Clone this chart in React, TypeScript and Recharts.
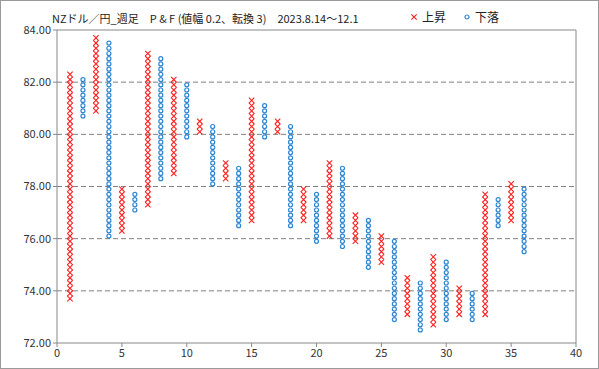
import React from "react";
import {
  ScatterChart,
  Scatter,
  XAxis,
  YAxis,
  CartesianGrid,
  ReferenceLine,
} from "recharts";

// P&F columns: odd = X (rising), even = O (falling); box size 0.2
const columnNo = [
  1, 2, 3, 4, 5, 6, 7, 8, 9, 10, 11, 12, 13, 14, 15, 16, 17, 18,
  19, 20, 21, 22, 23, 24, 25, 26, 27, 28, 29, 30, 31, 32, 33, 34, 35, 36,
];
const columnLow = [
  73.7, 80.7, 80.9, 76.1, 76.3, 77.1, 77.3, 78.3, 78.5, 79.9, 80.1, 78.1,
  78.3, 76.5, 76.7, 79.9, 80.1, 76.5, 76.7, 75.9, 76.1, 75.7, 75.9, 74.9,
  75.1, 72.9, 73.1, 72.5, 72.7, 72.9, 73.1, 72.9, 73.1, 76.5, 76.7, 75.5,
];
const columnHigh = [
  82.3, 82.1, 83.7, 83.5, 77.9, 77.7, 83.1, 82.9, 82.1, 81.9, 80.5, 80.3,
  78.9, 78.7, 81.3, 81.1, 80.5, 80.3, 77.9, 77.7, 78.9, 78.7, 76.9, 76.7,
  76.1, 75.9, 74.5, 74.3, 75.3, 75.1, 74.1, 73.9, 77.7, 77.5, 78.1, 77.9,
];
const boxSize = 0.2;

const xTicks = [0, 5, 10, 15, 20, 25, 30, 35, 40];
const yTicks = [72, 74, 76, 78, 80, 82, 84];

type Box = { x: number; y: number };

function boxesFor(rising: boolean): Box[] {
  const out: Box[] = [];
  columnNo.forEach((col, i) => {
    if ((col % 2 === 1) !== rising) return;
    const lo = Math.round(columnLow[i] * 10);
    const hi = Math.round(columnHigh[i] * 10);
    for (let v = lo; v <= hi; v += boxSize * 10) {
      out.push({ x: col, y: v / 10 });
    }
  });
  return out;
}

const upBoxes = boxesFor(true);
const downBoxes = boxesFor(false);

const RED = "#ff2020";
const BLUE = "#2f86d2";

function CrossShape(props: any) {
  const { cx, cy } = props;
  const r = 2.7;
  return (
    <g stroke={RED} strokeWidth={1.1}>
      <line x1={cx - r} y1={cy - r} x2={cx + r} y2={cy + r} />
      <line x1={cx - r} y1={cy + r} x2={cx + r} y2={cy - r} />
    </g>
  );
}

function CircleShape(props: any) {
  const { cx, cy } = props;
  return <circle cx={cx} cy={cy} r={2} fill="#fff" stroke={BLUE} strokeWidth={1.2} />;
}

const font = "'Noto Sans CJK JP', 'Noto Sans', sans-serif";

function LegendItem({ left, label, kind }: { left: number; label: string; kind: "x" | "o" }) {
  return (
    <div style={{ position: "absolute", left, top: 7, fontSize: 12, color: "#222", display: "flex", alignItems: "center" }}>
      <svg width={8} height={8} style={{ marginRight: 4 }}>
        {kind === "x" ? <CrossShape cx={4} cy={4} /> : <CircleShape cx={4} cy={4} />}
      </svg>
      {label}
    </div>
  );
}

export default function App() {
  return (
    <div
      style={{
        position: "absolute",
        left: 0,
        top: 0,
        width: 599,
        height: 369,
        boxSizing: "border-box",
        border: "1px solid #9a9a9a",
        background: "#fff",
        fontFamily: font,
      }}
    >
      <div
        style={{
          position: "absolute",
          left: 51,
          top: 9,
          fontSize: 11,
          color: "#222",
          whiteSpace: "pre",
        }}
      >
        NZドル／円_週足　P &amp; F (値幅 0.2、転換 3)　2023.8.14～12.1
      </div>
      <LegendItem left={409} label="上昇" kind="x" />
      <LegendItem left={462} label="下落" kind="o" />
      <ScatterChart
        width={597}
        height={367}
        margin={{ top: 29, right: 22, left: 11, bottom: 5 }}
        style={{ position: "absolute", left: 0, top: 0 }}
      >
        <CartesianGrid
          vertical={false}
          stroke="#808080"
          strokeDasharray="5 3"
          horizontalValues={[74, 76, 78, 80, 82]}
        />
        <XAxis
          type="number"
          dataKey="x"
          domain={[0, 40]}
          ticks={xTicks}
          height={20}
          tick={{ fill: "#333", fontSize: 11, fontFamily: font }}
          tickSize={4}
          stroke="#888"
        />
        <YAxis
          type="number"
          dataKey="y"
          domain={[72, 84]}
          ticks={yTicks}
          width={45}
          tickFormatter={(v: number) => v.toFixed(2)}
          tick={{ fill: "#333", fontSize: 11, fontFamily: font }}
          tickSize={4}
          stroke="#888"
        />
        <ReferenceLine y={84} stroke="#888" />
        <ReferenceLine x={40} stroke="#888" />
        <Scatter data={upBoxes} shape={CrossShape} isAnimationActive={false} />
        <Scatter data={downBoxes} shape={CircleShape} isAnimationActive={false} />
      </ScatterChart>
    </div>
  );
}
